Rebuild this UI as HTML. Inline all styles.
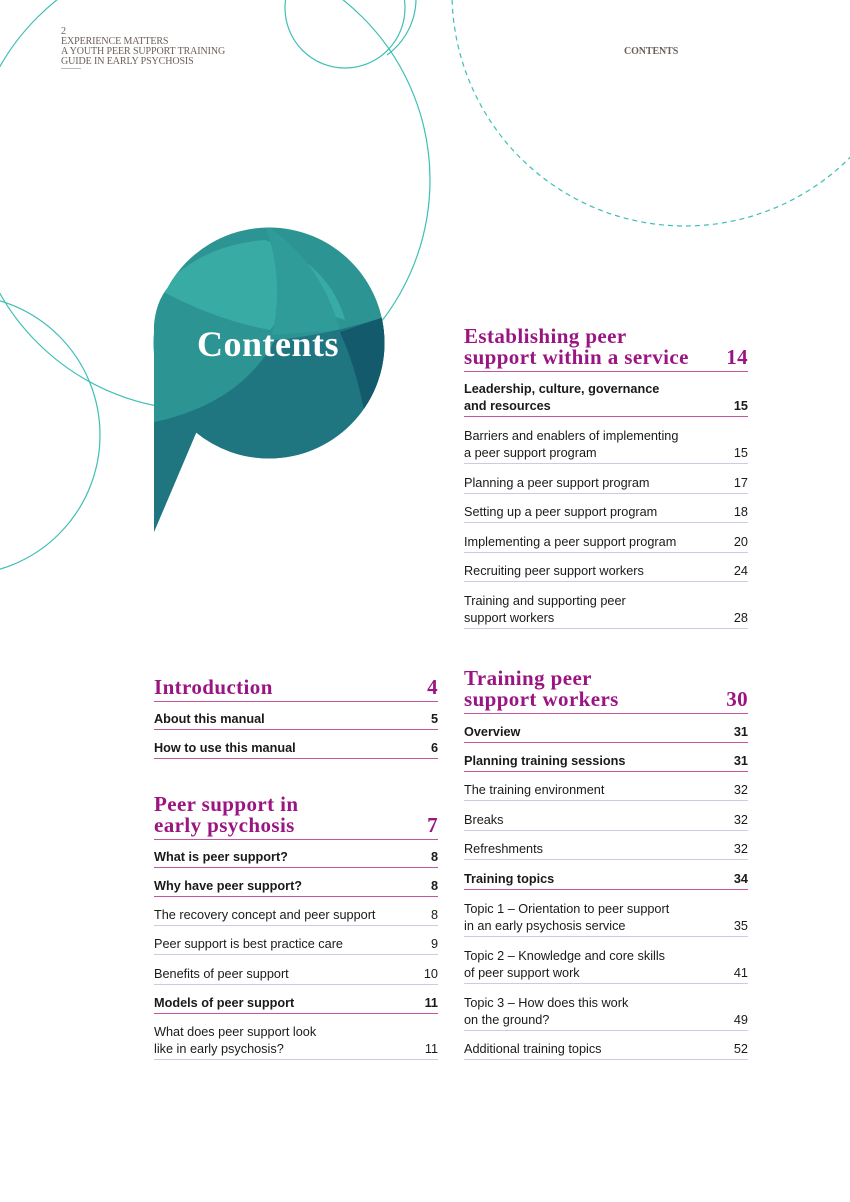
<!DOCTYPE html>
<html><head><meta charset="utf-8"><style>
*{margin:0;padding:0;box-sizing:border-box}
body{width:850px;height:1202px;position:relative;background:#fff;overflow:hidden;font-family:"Liberation Sans",sans-serif;color:#1a1a1a}
.hdr{position:absolute;font-family:"Liberation Serif",serif;color:#6b5f58;font-size:10px;line-height:10px;letter-spacing:-0.1px}
.r{position:absolute;width:284px;display:flex;justify-content:space-between;align-items:flex-end;font-size:12.7px;line-height:17px;border-bottom:1px solid #cfc9e3;padding-bottom:1px}
.b{font-weight:bold;border-bottom:1.5px solid #c6559f}
.h{position:absolute;width:284px;display:flex;justify-content:space-between;align-items:flex-end;font-family:"Liberation Serif",serif;font-weight:bold;font-size:21px;line-height:21px;letter-spacing:0.4px;color:#9b1582;border-bottom:1.5px solid #c6559f;padding-bottom:3px}
</style></head><body>
<svg width="850" height="1202" style="position:absolute;left:0;top:0">
<g fill="none" stroke="#3dbfb5" stroke-width="1.2">
<circle cx="200" cy="180" r="230"/>
<circle cx="-40" cy="435" r="140"/>
<circle cx="345" cy="8" r="60"/>
<path d="M416 0 A70 70 0 0 1 387 55"/>
<circle cx="685" cy="-7" r="233" stroke-dasharray="5 4"/>
</g>
<defs><clipPath id="bub"><circle cx="269" cy="343" r="115.5"/><path d="M154 325 Q156 300 170 285 L269 343 L205 412 L154 532 Z"/></clipPath></defs>
<g clip-path="url(#bub)">
<rect x="150" y="220" width="240" height="320" fill="#2c9594"/>
<path d="M160 290 Q200 245 265 240 Q330 265 345 320 Q290 300 270 330 Q215 320 160 290Z" fill="#38aba5"/>
<path d="M265 225 Q285 280 272 335 L340 330 Q320 260 265 225Z" fill="#2f9c99"/>
<path d="M150 423 Q240 405 275 340 Q330 335 390 315 L400 480 L150 560Z" fill="#1f7680"/>
<path d="M340 332 Q355 365 364 410 L400 420 L390 315Z" fill="#135a6c"/>
</g>
<text x="268" y="356" text-anchor="middle" font-family="Liberation Serif,serif" font-weight="bold" font-size="36" fill="#fff" letter-spacing="0.5">Contents</text>
</svg>
<div class="hdr" style="left:61px;top:27px">2<br>EXPERIENCE MATTERS<br>A YOUTH PEER SUPPORT TRAINING<br>GUIDE IN EARLY PSYCHOSIS</div>
<div style="position:absolute;left:61px;top:68px;width:20px;border-top:1px solid #bbb"></div>
<div class="hdr" style="left:624px;top:47px;font-weight:bold">CONTENTS</div>

<div class="h" style="left:464px;top:326px;height:46px"><span>Establishing peer<br>support within a service</span><span>14</span></div>
<div class="r b" style="left:464px;top:381px;height:36px"><span>Leadership, culture, governance<br>and resources</span><span>15</span></div>
<div class="r" style="left:464px;top:428px;height:36px"><span>Barriers and enablers of implementing<br>a peer support program</span><span>15</span></div>
<div class="r" style="left:464px;top:475px;height:19px"><span>Planning a peer support program</span><span>17</span></div>
<div class="r" style="left:464px;top:504px;height:19px"><span>Setting up a peer support program</span><span>18</span></div>
<div class="r" style="left:464px;top:534px;height:19px"><span>Implementing a peer support program</span><span>20</span></div>
<div class="r" style="left:464px;top:563px;height:19px"><span>Recruiting peer support workers</span><span>24</span></div>
<div class="r" style="left:464px;top:593px;height:36px"><span>Training and supporting peer<br>support workers</span><span>28</span></div>

<div class="h" style="left:464px;top:668px;height:46px"><span>Training peer<br>support workers</span><span>30</span></div>
<div class="r b" style="left:464px;top:724px;height:19px"><span>Overview</span><span>31</span></div>
<div class="r b" style="left:464px;top:753px;height:19px"><span>Planning training sessions</span><span>31</span></div>
<div class="r" style="left:464px;top:782px;height:19px"><span>The training environment</span><span>32</span></div>
<div class="r" style="left:464px;top:812px;height:19px"><span>Breaks</span><span>32</span></div>
<div class="r" style="left:464px;top:841px;height:19px"><span>Refreshments</span><span>32</span></div>
<div class="r b" style="left:464px;top:871px;height:19px"><span>Training topics</span><span>34</span></div>
<div class="r" style="left:464px;top:901px;height:36px"><span>Topic 1 – Orientation to peer support<br>in an early psychosis service</span><span>35</span></div>
<div class="r" style="left:464px;top:948px;height:36px"><span>Topic 2 – Knowledge and core skills<br>of peer support work</span><span>41</span></div>
<div class="r" style="left:464px;top:995px;height:36px"><span>Topic 3 – How does this work<br>on the ground?</span><span>49</span></div>
<div class="r" style="left:464px;top:1041px;height:19px"><span>Additional training topics</span><span>52</span></div>

<div class="h" style="left:154px;top:677px;height:25px"><span>Introduction</span><span>4</span></div>
<div class="r b" style="left:154px;top:711px;height:19px"><span>About this manual</span><span>5</span></div>
<div class="r b" style="left:154px;top:740px;height:19px"><span>How to use this manual</span><span>6</span></div>
<div class="h" style="left:154px;top:794px;height:46px"><span>Peer support in<br>early psychosis</span><span>7</span></div>
<div class="r b" style="left:154px;top:849px;height:19px"><span>What is peer support?</span><span>8</span></div>
<div class="r b" style="left:154px;top:878px;height:19px"><span>Why have peer support?</span><span>8</span></div>
<div class="r" style="left:154px;top:907px;height:19px"><span>The recovery concept and peer support</span><span>8</span></div>
<div class="r" style="left:154px;top:936px;height:19px"><span>Peer support is best practice care</span><span>9</span></div>
<div class="r" style="left:154px;top:966px;height:19px"><span>Benefits of peer support</span><span>10</span></div>
<div class="r b" style="left:154px;top:995px;height:19px"><span>Models of peer support</span><span>11</span></div>
<div class="r" style="left:154px;top:1024px;height:36px"><span>What does peer support look<br>like in early psychosis?</span><span>11</span></div>
</body></html>
